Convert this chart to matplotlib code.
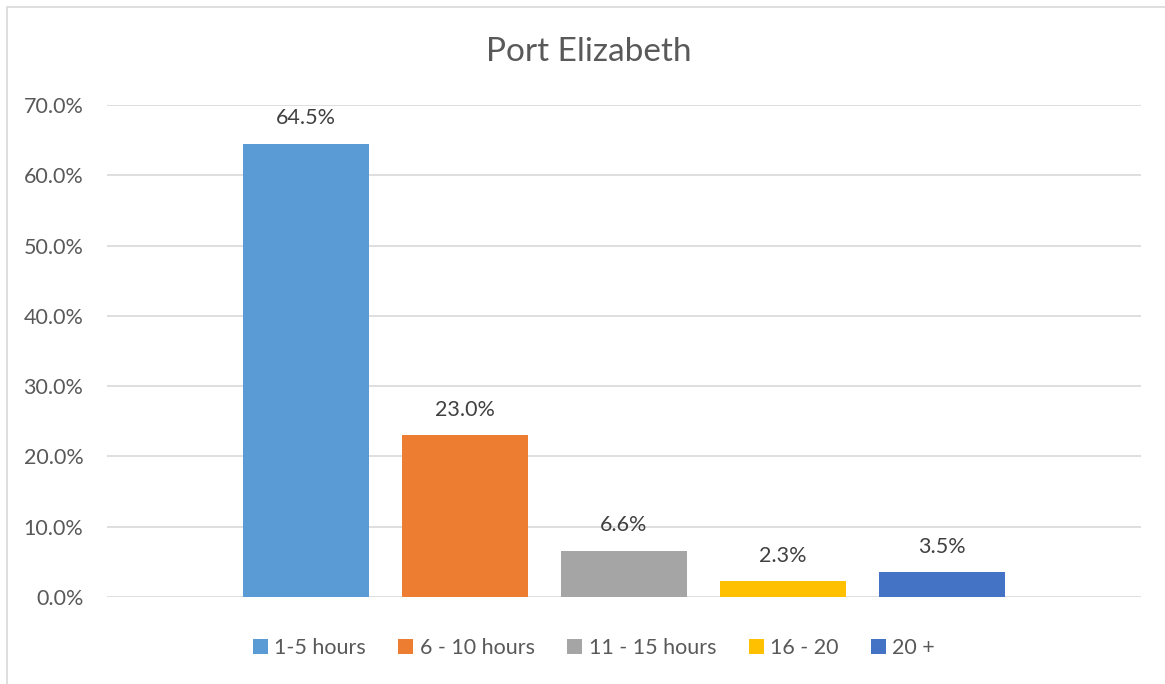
import numpy as np
import matplotlib.pyplot as plt
from matplotlib.patches import Rectangle

plt.rcParams['font.family'] = ['Lato', 'DejaVu Sans']

categories = ['1-5 hours', '6 - 10 hours', '11 - 15 hours', '16 - 20', '20 +']
values = [64.5, 23.0, 6.6, 2.3, 3.5]
colors = ['#5b9bd5', '#ed7d31', '#a5a5a5', '#ffc000', '#4472c4']
yticks = [0, 10, 20, 30, 40, 50, 60, 70]

txt = '#595959'

fig = plt.figure(figsize=(11.65, 6.84), dpi=100)
fig.patches.append(Rectangle((7/1165, -0.1), 1.2, 1.1 - 7/684, transform=fig.transFigure,
                             fill=False, edgecolor='#d9d9d9', linewidth=1.2))
ax = fig.add_axes([107/1165, 1 - 597/684, 1034/1165, (597 - 105)/684])

x = np.arange(len(values))
bars = ax.bar(x, values, width=126/159, color=colors, label=categories, zorder=3)
for xi, v in zip(x, values):
    ax.annotate(f'{v:.1f}%', (xi, v), xytext=(0, 11), textcoords='offset points',
                ha='center', va='bottom', fontsize=15.5, color='#404040')

half = (624 - 107) / 159
ax.set_xlim(2 - half, 2 + half)
ax.set_ylim(0, 70)
ax.set_yticks(yticks)
ax.set_yticklabels([f'{t:.1f}%' for t in yticks], fontsize=15.5, color=txt)
ax.set_xticks([])
ax.tick_params(axis='y', length=0, pad=17)
ax.grid(axis='y', color='#d9d9d9', linewidth=1.2, zorder=0)
for s in ax.spines.values():
    s.set_visible(False)

fig.text(589/1165, 1 - 52/684, 'Port Elizabeth', ha='center', va='center', fontsize=24, color=txt)

fig.legend(bars, categories, loc='center', bbox_to_anchor=(594/1165, 1 - 648/684), ncol=5,
           frameon=False, fontsize=15.5, labelcolor=txt, handlelength=0.7, handleheight=0.7,
           handletextpad=0.3, columnspacing=1.5)

fig.savefig('out.png', dpi=100)
